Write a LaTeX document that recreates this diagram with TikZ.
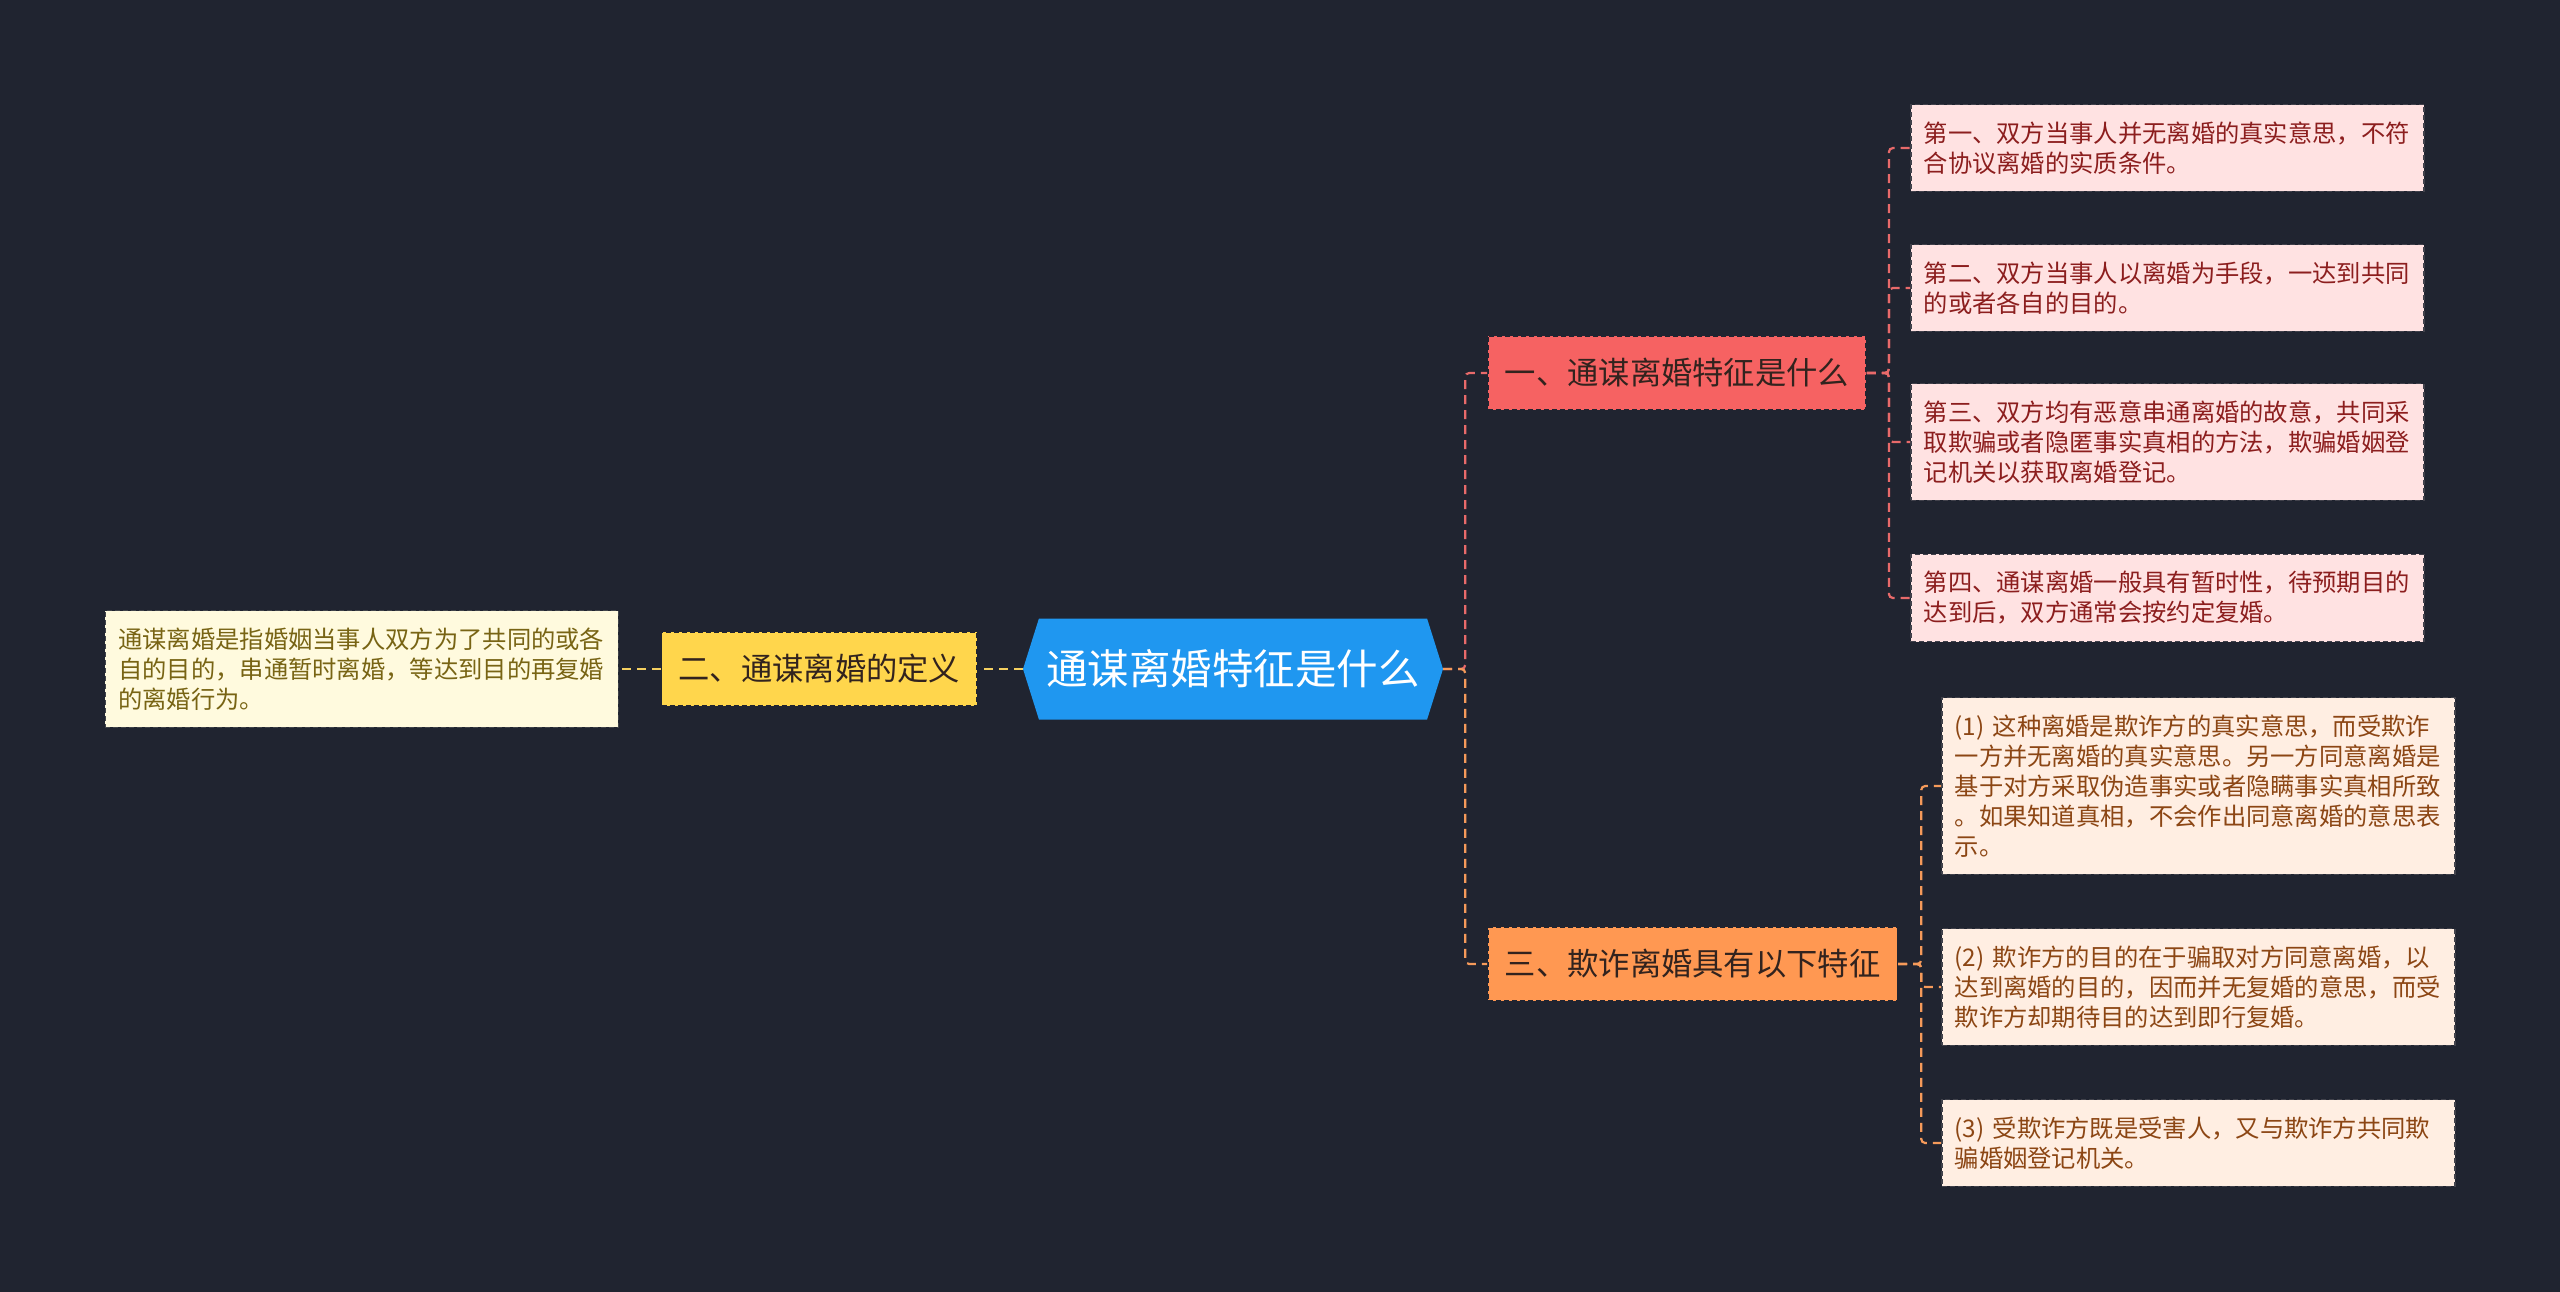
\documentclass[tikz,border=0pt]{standalone}
\usepackage{fontspec}
\newfontfamily\cjk{Noto Sans CJK SC}
\usetikzlibrary{shapes.symbols}

\definecolor{bgcol}{RGB}{32,36,48}
\definecolor{rootblue}{RGB}{31,151,240}
\definecolor{topicred}{RGB}{246,98,98}
\definecolor{topicorange}{RGB}{255,152,82}
\definecolor{topicyellow}{RGB}{255,214,76}
\definecolor{leafred}{RGB}{255,226,226}
\definecolor{leaforange}{RGB}{255,238,226}
\definecolor{leafyellow}{RGB}{255,250,222}
\definecolor{textred}{RGB}{140,30,30}
\definecolor{textbrown}{RGB}{140,70,20}
\definecolor{textolive}{RGB}{120,100,20}
\definecolor{textdark}{RGB}{50,35,30}
\definecolor{linered}{RGB}{232,106,106}
\definecolor{lineorange}{RGB}{245,154,90}
\definecolor{lineyellow}{RGB}{245,208,96}

\tikzset{
  rootbox/.style={shape=signal, signal to=west and east, signal pointer angle=145,
    fill=rootblue, text=white, font=\cjk\fontsize{41.5pt}{48pt}\selectfont,
    minimum width=420pt, minimum height=101pt, inner sep=0pt},
  topicbox/.style={draw=bgcol, fill=#1, dash pattern=on 5pt off 3pt, line width=1.6pt,
    text=textdark, font=\cjk\fontsize{31.3pt}{36pt}\selectfont,
    minimum height=74pt, inner xsep=17pt, inner ysep=0pt},
  leafbox/.style 2 args={draw=bgcol!85!#1, fill=#1, dash pattern=on 5pt off 3pt, line width=1.5pt,
    text=#2, font=\cjk\fontsize{24.3pt}{30pt}\selectfont, align=left,
    text width=487pt, inner xsep=13pt, inner ysep=17pt},
  link/.style={draw=#1, line width=2.2pt, dash pattern=on 9pt off 6pt, rounded corners=4pt}
}

\begin{document}
\begin{tikzpicture}[x=1pt,y=-1pt]

    % 0. 背景
    \fill[bgcol] (0,0) rectangle (2560,1292);

    % 1. 中心主题
    \node[rootbox] (root) at (1233,669) {通谋离婚特征是什么};

    % 2. 一级分支
    \node[topicbox=topicred, anchor=west] (yi) at (1487,373) {一、通谋离婚特征是什么};
    \node[topicbox=topicorange, anchor=west] (san) at (1487,964) {三、欺诈离婚具有以下特征};
    \node[topicbox=topicyellow, anchor=east] (er) at (978,669) {二、通谋离婚的定义};

    % 3. 叶子: 通谋离婚特征
    \node[leafbox={leafred}{textred}, anchor=west] (yi1) at (1910,148) {第一、双方当事人并无离婚的真实意思，不符\\合协议离婚的实质条件。};
    \node[leafbox={leafred}{textred}, anchor=west] (yi2) at (1910,288) {第二、双方当事人以离婚为手段，一达到共同\\的或者各自的目的。};
    \node[leafbox={leafred}{textred}, anchor=west] (yi3) at (1910,442) {第三、双方均有恶意串通离婚的故意，共同采\\取欺骗或者隐匿事实真相的方法，欺骗婚姻登\\记机关以获取离婚登记。};
    \node[leafbox={leafred}{textred}, anchor=west] (yi4) at (1910,598) {第四、通谋离婚一般具有暂时性，待预期目的\\达到后，双方通常会按约定复婚。};

    % 4. 叶子: 欺诈离婚
    \node[leafbox={leaforange}{textbrown}, anchor=west] (san1) at (1941,786) {(1) 这种离婚是欺诈方的真实意思，而受欺诈\\一方并无离婚的真实意思。另一方同意离婚是\\基于对方采取伪造事实或者隐瞒事实真相所致\\。如果知道真相，不会作出同意离婚的意思表\\示。};
    \node[leafbox={leaforange}{textbrown}, anchor=west] (san2) at (1941,987) {(2) 欺诈方的目的在于骗取对方同意离婚，以\\达到离婚的目的，因而并无复婚的意思，而受\\欺诈方却期待目的达到即行复婚。};
    \node[leafbox={leaforange}{textbrown}, anchor=west] (san3) at (1941,1143) {(3) 受欺诈方既是受害人，又与欺诈方共同欺\\骗婚姻登记机关。};

    % 5. 叶子: 定义
    \node[leafbox={leafyellow}{textolive}, anchor=east] (er1) at (619,669) {通谋离婚是指婚姻当事人双方为了共同的或各\\自的目的，串通暂时离婚，等达到目的再复婚\\的离婚行为。};

    % 6. 连线
    \draw[link=linered] (root.east) -- ++(22,0) |- (yi.west);
    \draw[link=lineorange] (root.east) -- ++(22,0) |- (san.west);
    \draw[link=lineyellow] (root.west) -- (er.east);
    \draw[link=lineyellow] (er.west) -- (er1.east);
    \foreach \n in {yi1,yi2,yi3,yi4} {
        \draw[link=linered] (yi.east) -- ++(22,0) |- (\n.west);
    }
    \foreach \n in {san1,san2,san3} {
        \draw[link=lineorange] (san.east) -- ++(23,0) |- (\n.west);
    }

\end{tikzpicture}
\end{document}
